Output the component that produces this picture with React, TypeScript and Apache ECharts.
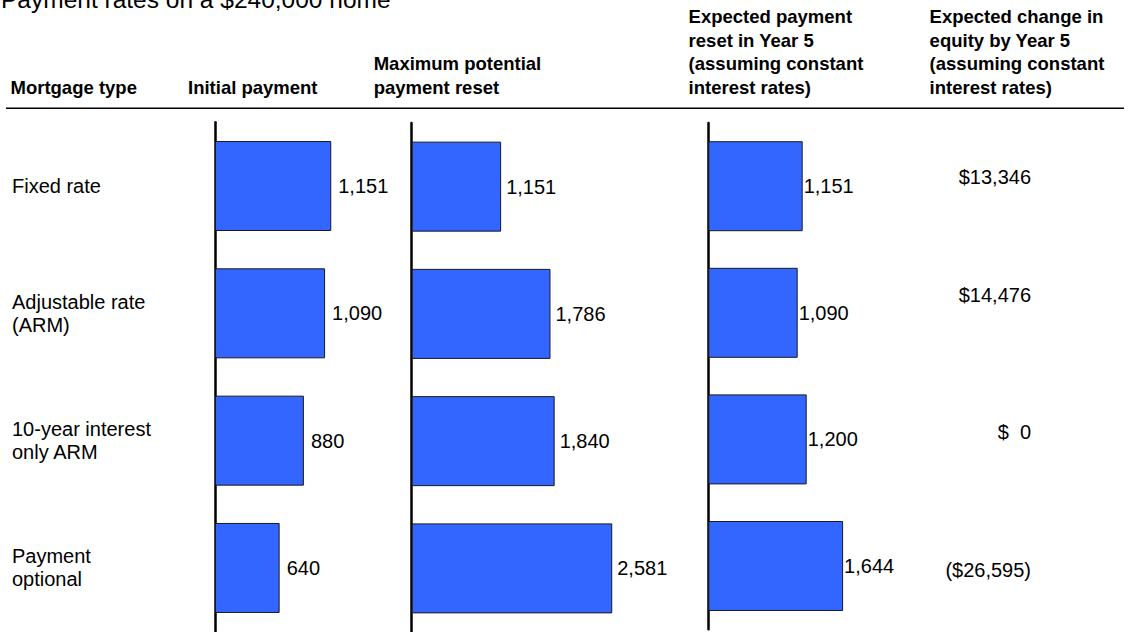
import React, { useEffect, useRef } from "react";
import * as echarts from "echarts";

// Mortgage products compared (row labels)
const mortgageTypes = [
  "Fixed rate",
  "Adjustable rate\n(ARM)",
  "10-year interest\nonly ARM",
  "Payment\noptional",
];

// Monthly payments, $
const initialPayment = [1151, 1090, 880, 640];
const maxPaymentReset = [1151, 1786, 1840, 2581];
const expectedResetYear5 = [1151, 1090, 1200, 1644];

// Expected change in equity by year 5, $
const equityChangeYear5 = [13346, 14476, 0, -26595];

const titleText = "Payment rates on a $240,000 home";
const columnHeads = [
  "Mortgage type",
  "Initial payment",
  "Maximum potential\npayment reset",
  "Expected payment\nreset in Year 5\n(assuming constant\ninterest rates)",
  "Expected change in\nequity by Year 5\n(assuming constant\ninterest rates)",
];

const FONT = "'Liberation Sans', Arial, Helvetica, sans-serif";
const BAR_BLUE = "#3366FF";

// Layout of the three bar panels (each has its own scale)
const panelLayout = [
  { max: 2000, left: 215, width: 202, top: 122.33, height: 509.3, labelGap: 7 },
  { max: 3000, left: 411.7, width: 233.1, top: 123, height: 510.3, labelGap: 5 },
  { max: 2000, left: 708.3, width: 164, top: 122.9, height: 506.4, labelGap: 1 },
];
const headX = [10.5, 188, 373.7, 688.6, 929.6];
const equityNudge = [-8.7, -18.3, -8.4, 2];

const fmtInt = (v: number) => v.toLocaleString("en-US");
const fmtEquity = (v: number) => {
  if (v === 0) return "$\u00a0\u00a00";
  if (v < 0) return `($${fmtInt(-v)})`;
  return `$${fmtInt(v)}`;
};

export default function App() {
  const ref = useRef<HTMLDivElement>(null);

  useEffect(() => {
    if (!ref.current) return;
    const chart = echarts.init(ref.current, undefined, { renderer: "svg" });
    const panelValues = [initialPayment, maxPaymentReset, expectedResetYear5];

    const grids: any[] = panelLayout.map((p) => ({
      left: p.left,
      top: p.top,
      width: p.width,
      height: p.height,
      containLabel: false,
    }));
    grids.push({ left: 1031, top: 122.33, width: 1, height: 509.3 });

    const xAxes: any[] = panelLayout.map((p, i) => ({
      type: "value",
      gridIndex: i,
      min: 0,
      max: p.max,
      show: false,
    }));
    xAxes.push({ type: "value", gridIndex: 3, min: 0, max: 1, show: false });

    const yAxes: any[] = panelLayout.map((_, i) => ({
      type: "category",
      gridIndex: i,
      data: mortgageTypes,
      inverse: true,
      axisLine: { show: true, lineStyle: { color: "#000", width: 2.5 } },
      axisTick: { show: false },
      splitLine: { show: false },
      axisLabel:
        i === 0
          ? {
              show: true,
              align: "left",
              margin: 203,
              fontSize: 20,
              lineHeight: 23,
              fontFamily: FONT,
              color: "#000",
            }
          : { show: false },
    }));
    yAxes.push({
      type: "category",
      gridIndex: 3,
      data: mortgageTypes,
      inverse: true,
      show: false,
    });

    const series: any[] = panelValues.map((vals, i) => ({
      type: "bar",
      xAxisIndex: i,
      yAxisIndex: i,
      data: vals,
      barWidth: 90,
      itemStyle: { color: BAR_BLUE, borderColor: "#1a1a1a", borderWidth: 1 },
      label: {
        show: true,
        position: "right",
        distance: panelLayout[i].labelGap,
        formatter: (p: any) => fmtInt(p.value),
        fontSize: 20,
        fontFamily: FONT,
        color: "#000",
      },
    }));
    series.push({
      type: "custom",
      xAxisIndex: 3,
      yAxisIndex: 3,
      data: equityChangeYear5.map((v, i) => [0, i, v]),
      encode: { x: 0, y: 1 },
      renderItem: (_params: any, api: any) => {
        const idx = api.value(1);
        const pt = api.coord([0, idx]);
        return {
          type: "text",
          x: pt[0],
          y: pt[1] + equityNudge[idx],
          style: {
            text: fmtEquity(api.value(2)),
            fill: "#000",
            fontSize: 20,
            fontFamily: FONT,
            align: "right",
            verticalAlign: "middle",
          },
        };
      },
    });

    const graphic: any[] = [
      {
        type: "text",
        x: 1,
        y: -0.5,
        style: {
          text: titleText,
          fill: "#000",
          fontSize: 24.5,
          fontFamily: FONT,
          align: "left",
          verticalAlign: "middle",
        },
      },
      ...columnHeads.map((h, i) => ({
        type: "text",
        x: headX[i],
        y: 99.5,
        style: {
          text: h,
          fill: "#000",
          fontSize: 18.5,
          fontWeight: "bold",
          fontFamily: FONT,
          lineHeight: 23.8,
          align: "left",
          verticalAlign: "bottom",
        },
      })),
      {
        type: "line",
        shape: { x1: 6, y1: 108.3, x2: 1124, y2: 108.3 },
        style: { stroke: "#000", lineWidth: 1.5 },
      },
    ];

    chart.setOption({
      animation: false,
      backgroundColor: "#fff",
      grid: grids,
      xAxis: xAxes,
      yAxis: yAxes,
      series,
      graphic,
    });

    return () => chart.dispose();
  }, []);

  return (
    <div
      ref={ref}
      style={{ position: "absolute", left: 0, top: 0, width: 1130, height: 632 }}
    />
  );
}
